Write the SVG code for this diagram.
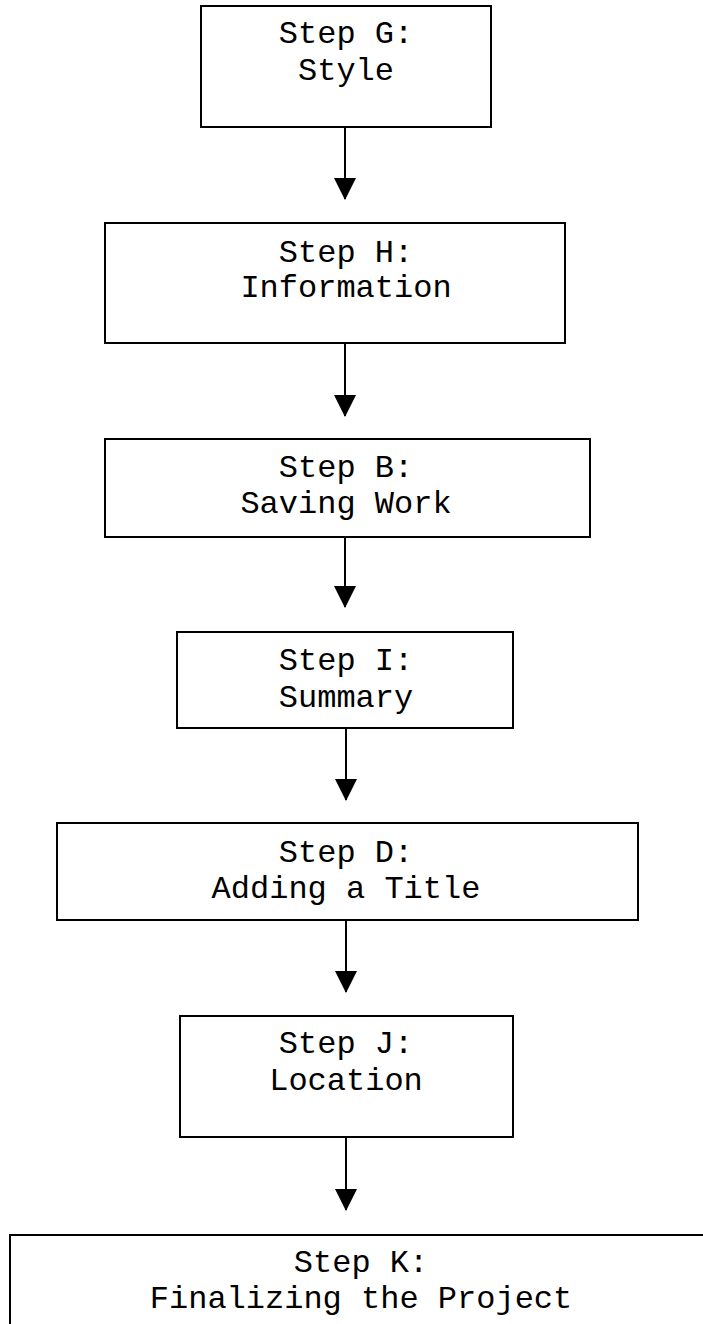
<svg xmlns="http://www.w3.org/2000/svg" width="703" height="1324" viewBox="0 0 703 1324">
<style>
.box{fill:#fff;stroke:#000;stroke-width:2}
.lbl{font-family:"Liberation Mono","Courier New",monospace;font-size:32px;fill:#000;text-anchor:middle}
.conn{stroke:#000;stroke-width:2;fill:none}
</style>
<defs>
<marker id="ah" viewBox="0 0 22 22" markerWidth="22" markerHeight="22" refX="21" refY="11" orient="auto" markerUnits="userSpaceOnUse">
<path d="M0,0 L22,11 L0,22 z" fill="#000"/>
</marker>
</defs>
<rect width="703" height="1324" fill="#fff"/>
<g id="nodeG"><rect class="box" x="201" y="6" width="290" height="121"/><text class="lbl" x="346" y="43">Step G:</text><text class="lbl" x="346" y="80">Style</text></g>
<g id="nodeH"><rect class="box" x="105" y="223" width="460" height="120"/><text class="lbl" x="346" y="262">Step H:</text><text class="lbl" x="346" y="297">Information</text></g>
<g id="nodeB"><rect class="box" x="105" y="439" width="485" height="98"/><text class="lbl" x="346" y="477">Step B:</text><text class="lbl" x="346" y="513">Saving Work</text></g>
<g id="nodeI"><rect class="box" x="177" y="632" width="336" height="96"/><text class="lbl" x="346" y="670">Step I:</text><text class="lbl" x="346" y="707">Summary</text></g>
<g id="nodeD"><rect class="box" x="57" y="823" width="581" height="97"/><text class="lbl" x="346" y="862">Step D:</text><text class="lbl" x="346" y="898">Adding a Title</text></g>
<g id="nodeJ"><rect class="box" x="180" y="1016" width="333" height="121"/><text class="lbl" x="346" y="1053">Step J:</text><text class="lbl" x="346" y="1090">Location</text></g>
<g id="nodeK"><rect class="box" x="10" y="1235" width="720" height="120"/><text class="lbl" x="361" y="1272">Step K:</text><text class="lbl" x="361" y="1308">Finalizing the Project</text></g>
<g id="connectors">
<line class="conn" x1="345" y1="127" x2="345" y2="199" marker-end="url(#ah)"/>
<line class="conn" x1="345" y1="343" x2="345" y2="416" marker-end="url(#ah)"/>
<line class="conn" x1="345" y1="537" x2="345" y2="607" marker-end="url(#ah)"/>
<line class="conn" x1="346" y1="728" x2="346" y2="800" marker-end="url(#ah)"/>
<line class="conn" x1="346" y1="920" x2="346" y2="992" marker-end="url(#ah)"/>
<line class="conn" x1="346" y1="1137" x2="346" y2="1210" marker-end="url(#ah)"/>
</g>
</svg>
